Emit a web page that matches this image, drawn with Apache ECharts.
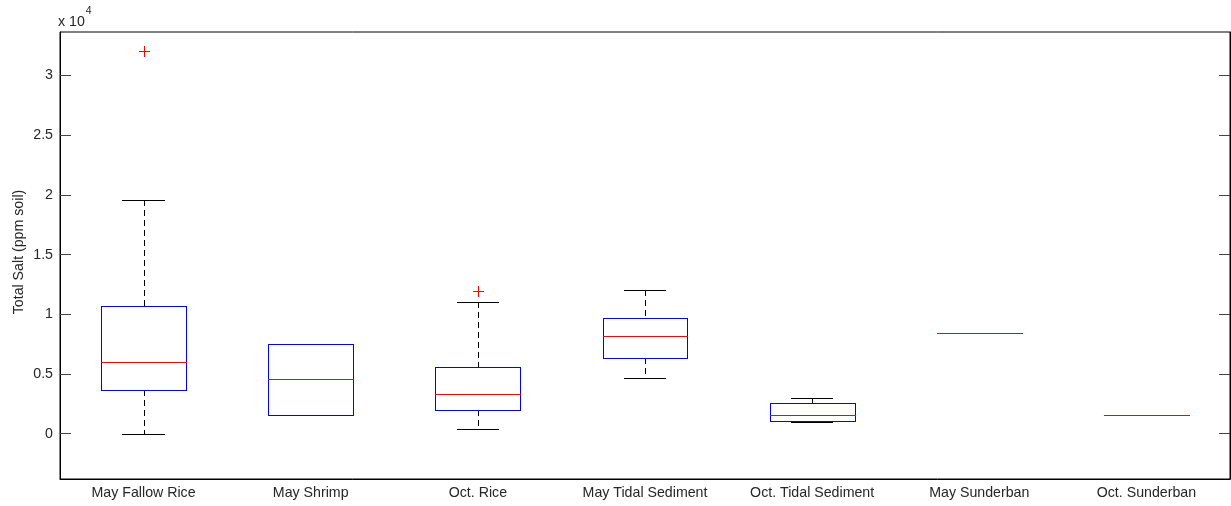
<!DOCTYPE html>
<html>
<head>
<meta charset="utf-8">
<script src="https://cdn.jsdelivr.net/npm/echarts@6/dist/echarts.min.js"></script>
<style>
  html, body { margin: 0; padding: 0; background: #fff; }
  #chart { width: 1231px; height: 506px; }
</style>
</head>
<body>
<div id="chart"></div>
<script>
// Sample groups along the x axis
const categories = ['May Fallow Rice', 'May Shrimp', 'Oct. Rice', 'May Tidal Sediment',
                    'Oct. Tidal Sediment', 'May Sunderban', 'Oct. Sunderban'];

// Box statistics, total salt in ppm soil
const lowerWhisker = [0, 1540, 420, 4690, 1000, 8410, 1570];
const q1 = [3690, 1540, 2010, 6340, 1090, 8410, 1570];
const median = [5980, 4580, 3300, 8210, 1540, 8410, 1570];
const q3 = [10730, 7540, 5610, 9700, 2570, 8410, 1570];
const upperWhisker = [19600, 7540, 11010, 12020, 3020, 8410, 1570];

// Outliers as [group index, value]
const outliers = [[0, 32050], [2, 11980]];

// Tick values (ppm) and their labels in units of 10^4
const yTicks = [0, 5000, 10000, 15000, 20000, 25000, 30000];
const yTickLabels = ['0', '0.5', '1', '1.5', '2', '2.5', '3'];

const Y_MIN = -3790, Y_MAX = 33640;
const FONT = '"Liberation Sans", Arial, Helvetica, sans-serif';
const FONT_SIZE = 14.2;
const TEXT_COLOR = '#262626';

const BOX_FRAC = 0.254;   // half box width as a fraction of the category band
const CAP_FRAC = 0.127;   // half whisker-cap width as a fraction of the band
const DASH_ON = 6, DASH_OFF = 4;

const RED = '#ff0000', BLUE = '#0000ff', BLACK = '#000000';

// 1px lines drawn as filled rectangles so they stay pixel-crisp
function hBar(x1, x2, y, color) {
  const xa = Math.round(x1), xb = Math.round(x2);
  return { type: 'rect', shape: { x: xa, y: Math.round(y), width: Math.max(xb - xa, 1), height: 1 },
           style: { fill: color, stroke: null } };
}
function vBar(x, y1, y2, color) {
  const ya = Math.round(Math.min(y1, y2)), yb = Math.round(Math.max(y1, y2));
  return { type: 'rect', shape: { x: Math.round(x), y: ya, width: 1, height: Math.max(yb - ya, 1) },
           style: { fill: color, stroke: null } };
}
function dashedV(x, y1, y2, color) {
  const out = [];
  const ya = Math.round(Math.min(y1, y2)), yb = Math.round(Math.max(y1, y2));
  for (let y = ya; y < yb; y += DASH_ON + DASH_OFF) {
    out.push(vBar(x, y, Math.min(y + DASH_ON, yb), color));
  }
  return out;
}

// one complete box: whiskers, caps, box outline, median, drawn in that order
function renderBoxplot(params, api) {
  const idx = api.value(0);
  const band = api.size([1, 0])[0];
  const cx = api.coord([idx, 0])[0];
  const boxHalf = band * BOX_FRAC;
  const capHalf = band * CAP_FRAC;
  const yLw = Math.round(api.coord([idx, api.value(1)])[1]);
  const yQ1 = Math.round(api.coord([idx, api.value(2)])[1]);
  const yMed = Math.round(api.coord([idx, api.value(3)])[1]);
  const yQ3 = Math.round(api.coord([idx, api.value(4)])[1]);
  const yUw = Math.round(api.coord([idx, api.value(5)])[1]);
  const xl = cx - boxHalf, xr = cx + boxHalf;

  let children = [];
  if (yQ3 - yUw > 1) children = children.concat(dashedV(cx, yUw, yQ3, BLACK));
  if (yLw - yQ1 > 1) children = children.concat(dashedV(cx, yQ1, yLw, BLACK));
  if (yUw !== yQ3) children.push(hBar(cx - capHalf, cx + capHalf, yUw, BLACK));
  if (yLw !== yQ1) children.push(hBar(cx - capHalf, cx + capHalf, yLw, BLACK));
  if (yQ1 > yQ3) {
    children.push(hBar(xl, xr + 1, yQ3, BLUE));
    children.push(hBar(xl, xr + 1, yQ1, BLUE));
    children.push(vBar(xl, yQ3, yQ1, BLUE));
    children.push(vBar(xr, yQ3, yQ1, BLUE));
  }
  children.push(hBar(xl, xr + 1, yMed, RED));
  return { type: 'group', children: children };
}

// outlier markers (red plus signs)
function renderOutlier(params, api) {
  const p = api.coord([api.value(0), api.value(1)]);
  const r = 5;
  return {
    type: 'group',
    children: [
      hBar(p[0] - r, p[0] + r + 1, p[1], RED),
      vBar(p[0], p[1] - r, p[1] + r + 1, RED)
    ]
  };
}

const boxData = categories.map((c, i) =>
  [i, lowerWhisker[i], q1[i], median[i], q3[i], upperWhisker[i]]);

const chart = echarts.init(document.getElementById('chart'), null, { renderer: 'canvas' });

chart.setOption({
  animation: false,
  backgroundColor: '#fff',
  grid: {
    left: 60, right: 1, top: 32, bottom: 27,
    show: true, borderColor: '#000', borderWidth: 1
  },
  xAxis: [{
    type: 'category',
    data: categories,
    boundaryGap: true,
    axisLine: { show: true, onZero: false, lineStyle: { color: '#000', width: 1 } },
    axisTick: { show: false },
    axisLabel: { color: TEXT_COLOR, fontFamily: FONT, fontSize: FONT_SIZE, margin: 7, interval: 0 },
    splitLine: { show: false }
  }],
  yAxis: [{
    type: 'value',
    position: 'left',
    min: Y_MIN, max: Y_MAX,
    axisLine: { show: true, onZero: false, lineStyle: { color: '#000', width: 1 } },
    axisTick: { show: true, inside: true, length: 11, customValues: yTicks,
                lineStyle: { color: '#444', width: 1 } },
    axisLabel: {
      show: true, customValues: yTicks, margin: 7,
      color: TEXT_COLOR, fontFamily: FONT, fontSize: FONT_SIZE,
      formatter: v => yTickLabels[yTicks.indexOf(v)]
    },
    splitLine: { show: false }
  }, {
    type: 'value',
    position: 'right',
    min: Y_MIN, max: Y_MAX,
    axisLine: { show: true, onZero: false, lineStyle: { color: '#000', width: 1 } },
    axisTick: { show: true, inside: true, length: 11, customValues: yTicks,
                lineStyle: { color: '#444', width: 1 } },
    axisLabel: { show: false },
    splitLine: { show: false }
  }],
  graphic: [{
    type: 'text',
    left: 58, top: 6,
    style: {
      text: '{a|x 10}{b|4}',
      fill: TEXT_COLOR,
      rich: {
        a: { fontFamily: FONT, fontSize: FONT_SIZE, fill: TEXT_COLOR, verticalAlign: 'bottom', padding: [9, 0, 0, 0] },
        b: { fontFamily: FONT, fontSize: 10.5, fill: TEXT_COLOR, verticalAlign: 'top', padding: [0, 0, 0, 1] }
      }
    }
  }, {
    type: 'text',
    x: 19, y: 252,
    rotation: Math.PI / 2,
    style: {
      text: 'Total Salt (ppm soil)',
      fill: TEXT_COLOR,
      font: FONT_SIZE + 'px ' + FONT,
      align: 'center',
      verticalAlign: 'middle'
    }
  }],
  series: [{
    type: 'custom',
    name: 'Total Salt',
    xAxisIndex: 0, yAxisIndex: 0,
    clip: false, silent: true, z: 2,
    renderItem: renderBoxplot,
    data: boxData
  }, {
    type: 'custom',
    name: 'Outliers',
    xAxisIndex: 0, yAxisIndex: 0,
    clip: false, silent: true, z: 3,
    renderItem: renderOutlier,
    data: outliers
  }]
});
</script>
</body>
</html>
